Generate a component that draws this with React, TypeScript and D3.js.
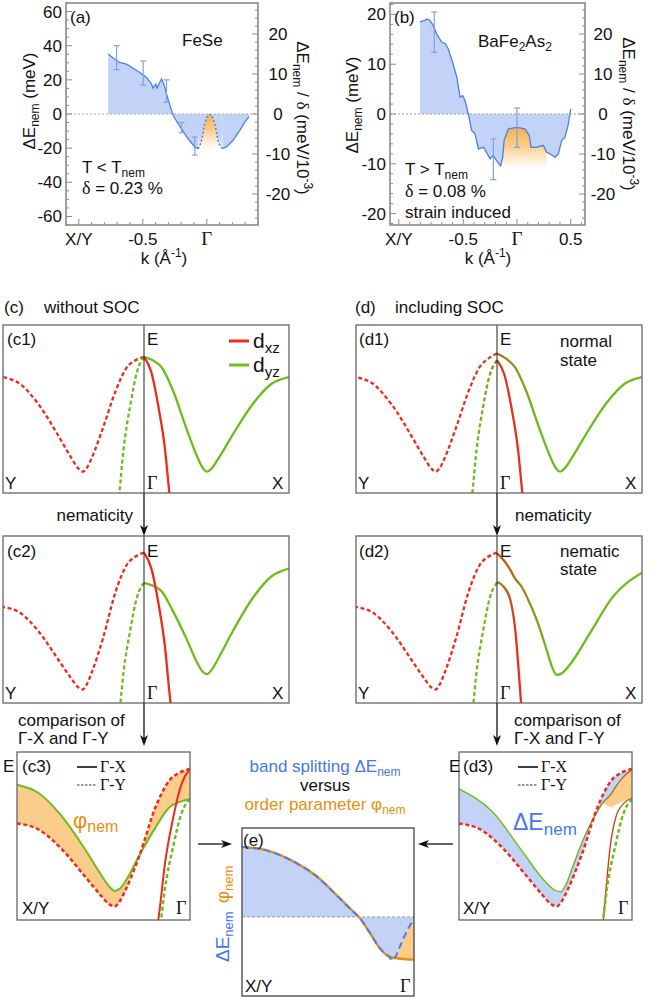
import React from 'react'
import * as d3 from 'd3'

const SANS = '"Liberation Sans", Arial, Helvetica, sans-serif'
const SERIF = '"Liberation Serif", "Times New Roman", serif'

const RED = '#ee2a1c'
const GREEN = '#6bbd1c'
const BLUE = '#4f7de8'
const BLUE_TXT = '#4676ee'
const BLUE_FILL = '#c3d3f8'
const ORANGE = '#e98f10'
const ORANGE_FILL = '#fccd8a'
const FRAME = '#666'
const AXIS = '#8a8a8a'
const ERR = '#7fa0e8'

// ---------- (a) FeSe, T < Tnem ----------
const feseK = [-0.771, -0.719, -0.68, -0.627, -0.523, -0.471, -0.432, -0.42, -0.398, -0.39, -0.354, -0.336, -0.315, -0.284, -0.263, -0.224, -0.19, -0.146, -0.094, -0.068]
const feseDE = [35.1, 32.1, 30.2, 29.2, 24.3, 21.4, 17.6, 15.2, 17.6, 15.2, 20.5, 17.6, 11.8, 4.0, -0.9, -5.7, -9.6, -14.5, -19.3, -20.3]
const feseBumpK = [-0.068, -0.041, -0.016, 0.023, 0.0625, 0.088, 0.123]
const feseBumpDE = [-20.3, -15.4, -5.7, -0.3, -5.7, -15.4, -20.3]
const feseTailK = [0.123, 0.154, 0.205, 0.258, 0.297, 0.33]
const feseTailDE = [-20.3, -19.3, -15.4, -9.6, -4.8, -1.5]
const feseErrK = [-0.705, -0.497, -0.315, -0.198, -0.094]
const feseErrHi = [40, 31, 20, -5, -13.5]
const feseErrLo = [26, 17, 7, -11, -24]
const feseYTicks = [60, 40, 20, 0, -20, -40, -60]
const feseKTicks = [-1.0, -0.5, 0]
const feseKLabels = ['X/Y', '-0.5', 'Γ']
const rightTicks = [20, 10, 0, -10, -20]

// ---------- (b) BaFe2As2, strain induced ----------
const bfaK = [-0.903, -0.857, -0.84, -0.81, -0.78, -0.748, -0.70, -0.67, -0.64, -0.60, -0.56, -0.53, -0.505, -0.484, -0.453, -0.422, -0.39, -0.36, -0.31, -0.25, -0.22, -0.19, -0.152, -0.133, -0.12, -0.08, 0.0, 0.074, 0.115, 0.13, 0.18, 0.245, 0.276, 0.307, 0.354, 0.385, 0.416, 0.447, 0.478, 0.50]
const bfaDE = [18.5, 18.8, 19.1, 18.8, 17.8, 16.1, 14.4, 14.2, 13.1, 10.4, 7.4, 3.4, 3.7, 2.7, 0, -3.3, -4.0, -7.0, -6.7, -9.0, -8.3, -9.4, -10.4, -8.7, -5.3, -3.0, -2.7, -3.0, -4.3, -6.7, -6.7, -6.3, -7.7, -8.0, -8.7, -8.0, -5.3, -4.7, -2.0, 1.0]
const bfaErrK = [-0.77, -0.22, 0.0]
const bfaErrHi = [20.5, -5, 1.2]
const bfaErrLo = [12.4, -13.2, -6.7]
const bfaYTicks = [20, 10, 0, -10, -20]
const bfaKTicks = [-1.1, -0.5, 0, 0.5]
const bfaKLabels = ['X/Y', '-0.5', 'Γ', '0.5']

// ---------- schematic bands: u = 0 at Γ, 1 at zone edge; E = fraction of frame height ----------
const bandU = [0, 0.06, 0.12, 0.2, 0.29, 0.37, 0.405, 0.435, 0.465, 0.52, 0.6, 0.75, 0.88, 1.0]
const outerE = [0.81, 0.79, 0.75, 0.61, 0.39, 0.21, 0.15, 0.127, 0.145, 0.215, 0.33, 0.53, 0.65, 0.69]
const innerU = [0, 0.05, 0.1, 0.145, 0.175, 0.21]
const innerE = [0.81, 0.72, 0.51, 0.26, 0.0, -0.25]
// nematic shift of dxz (up) / dyz (down)
const phiU = [0, 0.1, 0.2, 0.29, 0.43, 0.6, 0.8, 1.0]
const phiE = [0.09, 0.085, 0.06, 0.0, -0.045, -0.08, -0.105, -0.115]
// spin-orbit gap at Γ
const socU = [0, 0.05, 0.1, 0.2]
const socE = [0.02, 0.013, 0.004, 0]
// nematic + SOC, Γ-X
const nemUpperU = [0, 0.055, 0.09, 0.124, 0.17, 0.216, 0.274, 0.343, 0.38, 0.412, 0.45, 0.503, 0.64, 0.80, 1.0]
const nemUpperE = [0.896, 0.846, 0.80, 0.746, 0.696, 0.617, 0.497, 0.317, 0.215, 0.168, 0.18, 0.23, 0.417, 0.637, 0.78]
const nemLowerU = [0, 0.046, 0.092, 0.126, 0.149, 0.166, 0.19]
const nemLowerE = [0.726, 0.696, 0.617, 0.437, 0.198, 0.0, -0.3]

// ---------- (e) ----------
const ePhiU = [1.0, 0.856, 0.70, 0.566, 0.45, 0.372, 0.314, 0.256, 0.198, 0.149, 0.10, 0.0]
const ePhiV = [1.0, 0.95, 0.79, 0.58, 0.31, 0.12, -0.02, -0.23, -0.45, -0.56, -0.59, -0.61]
const eDeltaU = [1.0, 0.856, 0.70, 0.566, 0.45, 0.372, 0.314, 0.256, 0.198, 0.149, 0.124, 0.081, 0.043, 0.0]
const eDeltaV = [1.0, 0.95, 0.79, 0.58, 0.31, 0.12, -0.02, -0.23, -0.45, -0.56, -0.62, -0.42, -0.21, -0.03]

const phi = d3.scaleLinear().domain(phiU).range(phiE).clamp(true)
const soc = d3.scaleLinear().domain(socU).range(socE).clamp(true)
const outerUp = bandU.map((u, i) => outerE[i] + phi(u))
const outerDn = bandU.map((u, i) => outerE[i] - phi(u))
const innerUp = innerU.map((u, i) => innerE[i] + phi(u))
const innerDn = innerU.map((u, i) => innerE[i] - phi(u))
const outerSoc = bandU.map((u, i) => outerE[i] + soc(u))
const innerSoc = innerU.map((u, i) => innerE[i] - soc(u))

const smoothCurve = d3.curveMonotoneX
const smooth = d3.line().curve(smoothCurve)
const straight = d3.line()

const pts = (us, es, xs, ys) => us.map((u, i) => [xs(u), ys(es[i])])
const ribbon = (a, b) => smooth(a) + 'L' + smooth(b.slice().reverse()).slice(1) + 'Z'

// geometry of the schematic panels
const C1 = { x0: 3, x1: 289, gx: 144, y0: 325, y1: 493 }
const D1 = { x0: 356, x1: 642, gx: 497, y0: 325, y1: 493 }
const C2 = { x0: 3, x1: 289, gx: 144, y0: 536, y1: 703 }
const D2 = { x0: 356, x1: 642, gx: 497, y0: 536, y1: 703 }
const C3 = { x0: 17, x1: 190, y0: 752, y1: 920 }
const D3 = { x0: 459, x1: 632, y0: 752, y1: 920 }
const EP = { x0: 242, x1: 414, y0: 828, y1: 996 }

const Y0 = 3, Y1 = 225

function Sub({ children, size = 12, dy = 4 }) {
  return <tspan fontSize={size} dy={dy}>{children}</tspan>
}

function Spectrum({ x, y, yTicks, yMinor, kTicks, kLabels, rLabelX, children }) {
  const [x0, x1] = x.range()
  const yr = d3.scaleLinear().domain([-27.75, 27.75]).range([Y1, Y0])
  const steps = (s, step) => {
    const [lo, hi] = s.domain()
    return d3.range(Math.ceil(lo / step - 1e-9), Math.floor(hi / step + 1e-9) + 1).map(i => +(i * step).toFixed(4))
  }
  const major = (v, list) => list.some(m => Math.abs(m - v) < 1e-6)
  return (
    <g>
      {children}
      <g stroke={AXIS} strokeWidth={1}>
        {steps(y, yMinor).map(v => <line key={'l' + v} x1={x0} x2={x0 + (major(v, yTicks) ? 6 : 3)} y1={y(v)} y2={y(v)} />)}
        {steps(yr, 2).map(v => <line key={'r' + v} x1={x1} x2={x1 - (major(v, rightTicks) ? 6 : 3)} y1={yr(v)} y2={yr(v)} />)}
        {steps(x, 0.1).map(v => <line key={'b' + v} x1={x(v)} x2={x(v)} y1={Y1} y2={Y1 - (major(v, kTicks) ? 6 : 3)} />)}
      </g>
      <rect x={x0} y={Y0} width={x1 - x0} height={Y1 - Y0} fill="none" stroke={AXIS} strokeWidth={1.6} />
      <g fontSize={17} fill="#111">
        {yTicks.map(v => <text key={v} x={x0 - 4} y={y(v) + 6} textAnchor="end">{v}</text>)}
        {rightTicks.map(v => <text key={v} x={rLabelX} y={yr(v) + 6} textAnchor="middle">{v}</text>)}
        {kTicks.map((k, i) => (
          <text key={k} x={x(k)} y={245} textAnchor="middle" fontFamily={kLabels[i] === 'Γ' ? SERIF : SANS} fontSize={kLabels[i] === 'Γ' ? 19 : 17}>{kLabels[i]}</text>
        ))}
      </g>
    </g>
  )
}

function PanelA() {
  const x = d3.scaleLinear().domain([-1.10, 0.40]).range([66, 258])
  const y = d3.scaleLinear().domain([-65, 65]).range([Y1, Y0])
  const area = d3.area().x(d => x(d[0])).y0(y(0)).y1(d => y(d[1]))
  const areaSmooth = d3.area().curve(smoothCurve).x(d => x(d[0])).y0(y(0)).y1(d => y(d[1]))
  const seg1 = feseK.map((k, i) => [k, feseDE[i]])
  const bump = feseBumpK.map((k, i) => [k, feseBumpDE[i]])
  const tail = feseTailK.map((k, i) => [k, feseTailDE[i]])
  const toPx = d => [x(d[0]), y(d[1])]
  const bumpArea = d3.area().curve(smoothCurve).x(d => x(d[0])).y0(y(-20.3)).y1(d => y(d[1]))
  return (
    <Spectrum x={x} y={y} yTicks={feseYTicks} yMinor={5} kTicks={feseKTicks} kLabels={feseKLabels} rLabelX={278}>
      <defs>
        <linearGradient id="orA" x1="0" y1="0" x2="0" y2="1">
          <stop offset="0" stopColor="#f7b04e" />
          <stop offset="0.45" stopColor={ORANGE_FILL} />
          <stop offset="1" stopColor="#fff" />
        </linearGradient>
        <linearGradient id="blA" x1="0" y1="0" x2="0" y2="1">
          <stop offset="0" stopColor={BLUE_FILL} />
          <stop offset="0.6" stopColor={BLUE_FILL} />
          <stop offset="1" stopColor="#eef2fd" />
        </linearGradient>
      </defs>
      <path d={area(seg1)} fill={BLUE_FILL} />
      <path d={areaSmooth(bump)} fill="url(#blA)" />
      <path d={area(tail)} fill={BLUE_FILL} />
      <path d={bumpArea(bump)} fill="url(#orA)" />
      <line x1={66} x2={258} y1={y(0)} y2={y(0)} stroke="#aaa" strokeWidth={1} strokeDasharray="2 2" />
      <path d={straight(seg1.map(toPx))} fill="none" stroke={BLUE} strokeWidth={1.3} />
      <path d={smooth(bump.map(toPx))} fill="none" stroke={BLUE} strokeWidth={1.5} strokeDasharray="2 2" />
      <path d={straight(tail.map(toPx))} fill="none" stroke={BLUE} strokeWidth={1.3} />
      <g stroke={ERR} strokeWidth={1.2}>
        {feseErrK.map((k, i) => (
          <g key={k}>
            <line x1={x(k)} x2={x(k)} y1={y(feseErrHi[i])} y2={y(feseErrLo[i])} />
            <line x1={x(k) - 3} x2={x(k) + 3} y1={y(feseErrHi[i])} y2={y(feseErrHi[i])} />
            <line x1={x(k) - 3} x2={x(k) + 3} y1={y(feseErrLo[i])} y2={y(feseErrLo[i])} />
          </g>
        ))}
      </g>
      <g fontSize={17} fill="#111">
        <text x={70} y={23}>(a)</text>
        <text x={182} y={46}>FeSe</text>
        <text x={82} y={173}>T &lt; T<Sub>nem</Sub></text>
        <text x={82} y={194}><tspan fontFamily={SERIF} fontSize={18}>δ</tspan> = 0.23 %</text>
        <text transform="translate(35,101) rotate(-90)" textAnchor="middle">ΔE<Sub>nem</Sub><tspan dy={-4}> (meV)</tspan></text>
        <text transform="translate(297,118) rotate(90)" textAnchor="middle">ΔE<Sub>nem</Sub><tspan dy={-4}> / </tspan><tspan fontFamily={SERIF}>δ</tspan>  (meV/10<tspan fontSize={12} dy={-7}>-3</tspan><tspan dy={7}>)</tspan></text>
        <text x={164} y={264} textAnchor="middle">k  (Å<tspan fontSize={12} dy={-7}>-1</tspan><tspan dy={7}>)</tspan></text>
      </g>
    </Spectrum>
  )
}

function PanelB() {
  const x = d3.scaleLinear().domain([-1.182, 0.633]).range([390, 585])
  const y = d3.scaleLinear().domain([-22.3, 22.3]).range([Y1, Y0])
  const data = bfaK.map((k, i) => [k, bfaDE[i]])
  const area = d3.area().x(d => x(d[0])).y0(y(0)).y1(d => y(d[1]))
  const orange = data.filter(d => d[0] >= -0.133 && d[0] <= 0.276)
  const orArea = d3.area().x(d => x(d[0])).y0(y(-10.8)).y1(d => y(d[1]))
  return (
    <Spectrum x={x} y={y} yTicks={bfaYTicks} yMinor={2} kTicks={bfaKTicks} kLabels={bfaKLabels} rLabelX={603}>
      <defs>
        <linearGradient id="orB" x1="0" y1="0" x2="0" y2="1">
          <stop offset="0" stopColor="#f7b04e" />
          <stop offset="0.45" stopColor={ORANGE_FILL} />
          <stop offset="1" stopColor="#fff" />
        </linearGradient>
      </defs>
      <path d={area(data)} fill={BLUE_FILL} />
      <path d={orArea(orange)} fill="url(#orB)" />
      <line x1={390} x2={585} y1={y(0)} y2={y(0)} stroke="#999" strokeWidth={1} strokeDasharray="2 2" />
      <path d={straight(data.map(d => [x(d[0]), y(d[1])]))} fill="none" stroke={BLUE} strokeWidth={1.3} />
      <g stroke={ERR} strokeWidth={1.2}>
        {bfaErrK.map((k, i) => (
          <g key={k}>
            <line x1={x(k)} x2={x(k)} y1={y(bfaErrHi[i])} y2={y(bfaErrLo[i])} />
            <line x1={x(k) - 3} x2={x(k) + 3} y1={y(bfaErrHi[i])} y2={y(bfaErrHi[i])} />
            <line x1={x(k) - 3} x2={x(k) + 3} y1={y(bfaErrLo[i])} y2={y(bfaErrLo[i])} />
          </g>
        ))}
      </g>
      <g fontSize={17} fill="#111">
        <text x={394} y={23}>(b)</text>
        <text x={478} y={47}>BaFe<Sub>2</Sub><tspan dy={-4}>As</tspan><Sub>2</Sub></text>
        <text x={405} y={175}>T &gt; T<Sub>nem</Sub></text>
        <text x={405} y={197}><tspan fontFamily={SERIF} fontSize={18}>δ</tspan> = 0.08 %</text>
        <text x={405} y={218}>strain induced</text>
        <text transform="translate(358,105) rotate(-90)" textAnchor="middle">ΔE<Sub>nem</Sub><tspan dy={-4}> (meV)</tspan></text>
        <text transform="translate(623,114) rotate(90)" textAnchor="middle">ΔE<Sub>nem</Sub><tspan dy={-4}> / </tspan><tspan fontFamily={SERIF}>δ</tspan>  (meV/10<tspan fontSize={12} dy={-7}>-3</tspan><tspan dy={7}>)</tspan></text>
        <text x={488} y={264} textAnchor="middle">k  (Å<tspan fontSize={12} dy={-7}>-1</tspan><tspan dy={7}>)</tspan></text>
      </g>
    </Spectrum>
  )
}

function Grad({ id, x1, x2, from, to }) {
  return (
    <linearGradient id={id} gradientUnits="userSpaceOnUse" x1={x1} x2={x2} y1={0} y2={0}>
      <stop offset="0" stopColor={from} />
      <stop offset="1" stopColor={to} />
    </linearGradient>
  )
}

function SidePanel({ id, g, curves }) {
  const ys = d3.scaleLinear().domain([0, 1]).range([g.y1, g.y0])
  const xr = d3.scaleLinear().domain([0, 1]).range([g.gx, g.x1])
  const xl = d3.scaleLinear().domain([0, 1]).range([g.gx, g.x0])
  return (
    <g>
      <clipPath id={id}><rect x={g.x0} y={g.y0} width={g.x1 - g.x0} height={g.y1 - g.y0} /></clipPath>
      <g clipPath={`url(#${id})`}>
        {curves.map((c, i) => (
          <path key={i} d={smooth(pts(c.u, c.e, c.side === 'L' ? xl : xr, ys))} fill="none"
            stroke={c.stroke} strokeWidth={c.w || 2.3} strokeDasharray={c.dash ? '4 2.6' : undefined} />
        ))}
      </g>
      <line x1={g.gx} x2={g.gx} y1={g.y0} y2={g.y1} stroke="#222" strokeWidth={1} />
      <rect x={g.x0} y={g.y0} width={g.x1 - g.x0} height={g.y1 - g.y0} fill="none" stroke={FRAME} strokeWidth={1.3} />
    </g>
  )
}

function ComparePanel({ id, g, fills, curves }) {
  const ys = d3.scaleLinear().domain([0, 1]).range([g.y1, g.y0])
  const xs = d3.scaleLinear().domain([0, 1]).range([g.x1, g.x0])
  return (
    <g>
      <clipPath id={id}><rect x={g.x0} y={g.y0} width={g.x1 - g.x0} height={g.y1 - g.y0} /></clipPath>
      <g clipPath={`url(#${id})`}>
        {fills.map((f, i) => {
          const a = pts(f.au, f.ae, xs, ys).filter((_, j) => f.au[j] <= f.max)
          const b = pts(f.bu, f.be, xs, ys).filter((_, j) => f.bu[j] <= f.max)
          return <path key={i} d={ribbon(a, b)} fill={f.fill} />
        })}
        {curves.map((c, i) => (
          <path key={i} d={smooth(pts(c.u, c.e, xs, ys))} fill="none"
            stroke={c.stroke} strokeWidth={c.w || 2} strokeDasharray={c.dash ? '4 2.6' : undefined} />
        ))}
      </g>
      <rect x={g.x0} y={g.y0} width={g.x1 - g.x0} height={g.y1 - g.y0} fill="none" stroke={FRAME} strokeWidth={1.3} />
    </g>
  )
}

function PanelE() {
  const xs = d3.scaleLinear().domain([0, 1]).range([EP.x1, EP.x0])
  const ys = d3.scaleLinear().domain([-1.13, 1.27]).range([EP.y1, EP.y0])
  const delta = pts(eDeltaU, eDeltaV, xs, ys)
  const phiLine = pts(ePhiU, ePhiV, xs, ys)
  const blueArea = d3.area().curve(smoothCurve).x(d => d[0]).y0(ys(0)).y1(d => d[1])
  const orA = phiLine.filter((_, i) => ePhiU[i] <= 0.15)
  const orB = delta.filter((_, i) => eDeltaU[i] <= 0.15)
  return (
    <g>
      <clipPath id="clipE"><rect x={EP.x0} y={EP.y0} width={EP.x1 - EP.x0} height={EP.y1 - EP.y0} /></clipPath>
      <g clipPath="url(#clipE)">
        <path d={blueArea(delta)} fill={BLUE_FILL} />
        <path d={ribbon(orA, orB)} fill={ORANGE_FILL} />
        <line x1={EP.x0} x2={EP.x1} y1={ys(0)} y2={ys(0)} stroke="#888" strokeWidth={0.8} strokeDasharray="3 2" />
        <path d={smooth(phiLine)} fill="none" stroke={ORANGE} strokeWidth={2.4} />
        <path d={smooth(delta)} fill="none" stroke={BLUE} strokeWidth={2} strokeDasharray="7 4" />
      </g>
      <rect x={EP.x0} y={EP.y0} width={EP.x1 - EP.x0} height={EP.y1 - EP.y0} fill="none" stroke="#444" strokeWidth={1.3} />
    </g>
  )
}

function ArrowDown({ x, y1, y2 }) {
  return (
    <g>
      <line x1={x} x2={x} y1={y1} y2={y2 - 6} stroke="#111" strokeWidth={1.3} />
      <path d={`M${x},${y2} L${x - 4},${y2 - 11} L${x},${y2 - 8} L${x + 4},${y2 - 11} Z`} fill="#111" />
    </g>
  )
}

function ArrowH({ xFrom, xTo, y }) {
  const s = Math.sign(xTo - xFrom)
  return (
    <g>
      <line x1={xFrom} x2={xTo - s * 6} y1={y} y2={y} stroke="#111" strokeWidth={1.3} />
      <path d={`M${xTo},${y} L${xTo - s * 11},${y - 4} L${xTo - s * 8},${y} L${xTo - s * 11},${y + 4} Z`} fill="#111" />
    </g>
  )
}

export default function App() {
  const dBand = (u, e, side, stroke, dash) => ({ u, e, side, stroke, dash })
  return (
    <svg width={662} height={1000} viewBox="0 0 662 1000" style={{ position: 'absolute', left: 0, top: 0, background: '#fff' }} fontFamily={SANS}>
      <defs>
        <Grad id="d1OutR" x1={497} x2={540} from="#a5721c" to={GREEN} />
        <Grad id="d1InR" x1={497} x2={519} from="#c24a18" to={RED} />
        <Grad id="d1OutL" x1={497} x2={455} from="#b0581c" to={RED} />
        <Grad id="d1InL" x1={497} x2={476} from="#8f8a1c" to={GREEN} />
        <Grad id="d2UpR" x1={497} x2={548} from="#cc4a1a" to={GREEN} />
        <Grad id="d2LoR" x1={497} x2={519} from="#8e8a1e" to={RED} />
        <Grad id="d3Up" x1={632} x2={566} from="#b8561a" to={GREEN} />
        <Grad id="d3Lo" x1={632} x2={606} from="#9a7a1c" to={RED} />
      </defs>

      <PanelA />
      <PanelB />

      <g fontSize={17} fill="#111">
        <text x={4} y={313}>(c)</text>
        <text x={44} y={313}>without SOC</text>
        <text x={355} y={313}>(d)</text>
        <text x={395} y={313}>including SOC</text>
      </g>

      <SidePanel id="c1" g={C1} curves={[
        dBand(bandU, outerE, 'L', RED, true),
        dBand(innerU, innerE, 'L', GREEN, true),
        dBand(bandU, outerE, 'R', GREEN, false),
        dBand(innerU, innerE, 'R', RED, false),
      ]} />
      <SidePanel id="c2" g={C2} curves={[
        dBand(bandU, outerUp, 'L', RED, true),
        dBand(innerU, innerDn, 'L', GREEN, true),
        dBand(bandU, outerDn, 'R', GREEN, false),
        dBand(innerU, innerUp, 'R', RED, false),
      ]} />
      <SidePanel id="d1" g={D1} curves={[
        dBand(bandU, outerSoc, 'L', 'url(#d1OutL)', true),
        dBand(innerU, innerSoc, 'L', 'url(#d1InL)', true),
        dBand(bandU, outerSoc, 'R', 'url(#d1OutR)', false),
        dBand(innerU, innerSoc, 'R', 'url(#d1InR)', false),
      ]} />
      <SidePanel id="d2" g={D2} curves={[
        dBand(bandU, outerUp, 'L', RED, true),
        dBand(innerU, innerDn, 'L', GREEN, true),
        dBand(nemUpperU, nemUpperE, 'R', 'url(#d2UpR)', false),
        dBand(nemLowerU, nemLowerE, 'R', 'url(#d2LoR)', false),
      ]} />

      {/* legend c1 */}
      <line x1={229} x2={249} y1={341} y2={341} stroke={RED} strokeWidth={3} />
      <line x1={229} x2={249} y1={365} y2={365} stroke={GREEN} strokeWidth={3} />
      <g fontSize={21} fill="#111">
        <text x={253} y={348}>d<Sub size={15} dy={5}>xz</Sub></text>
        <text x={253} y={372}>d<Sub size={15} dy={5}>yz</Sub></text>
      </g>

      <g fontSize={17} fill="#111">
        <text x={7} y={345}>(c1)</text>
        <text x={147} y={345}>E</text>
        <text x={5} y={489}>Y</text>
        <text x={147} y={489} fontFamily={SERIF} fontSize={18}>Γ</text>
        <text x={272} y={489}>X</text>

        <text x={359} y={345}>(d1)</text>
        <text x={500} y={345}>E</text>
        <text x={560} y={347}>normal</text>
        <text x={560} y={366}>state</text>
        <text x={358} y={489}>Y</text>
        <text x={500} y={489} fontFamily={SERIF} fontSize={18}>Γ</text>
        <text x={625} y={489}>X</text>

        <text x={7} y={557}>(c2)</text>
        <text x={147} y={557}>E</text>
        <text x={5} y={699}>Y</text>
        <text x={147} y={699} fontFamily={SERIF} fontSize={18}>Γ</text>
        <text x={272} y={699}>X</text>

        <text x={359} y={557}>(d2)</text>
        <text x={500} y={557}>E</text>
        <text x={560} y={557}>nematic</text>
        <text x={560} y={575}>state</text>
        <text x={358} y={699}>Y</text>
        <text x={500} y={699} fontFamily={SERIF} fontSize={18}>Γ</text>
        <text x={625} y={699}>X</text>

        <text x={133} y={521} textAnchor="end">nematicity</text>
        <text x={515} y={521}>nematicity</text>
        <text x={18} y={726}>comparison of</text>
        <text x={18} y={744}>Γ-X and Γ-Y</text>
        <text x={514} y={726}>comparison of</text>
        <text x={514} y={744}>Γ-X and Γ-Y</text>
      </g>

      <ArrowDown x={C1.gx} y1={C1.y1} y2={C2.y0} />
      <ArrowDown x={D1.gx} y1={D1.y1} y2={D2.y0} />
      <ArrowDown x={C2.gx} y1={C2.y1} y2={746} />
      <ArrowDown x={D2.gx} y1={D2.y1} y2={746} />

      <ComparePanel id="c3" g={C3}
        fills={[{ au: bandU, ae: outerDn, bu: bandU, be: outerUp, max: 1, fill: ORANGE_FILL }]}
        curves={[
          { u: bandU, e: outerDn, stroke: GREEN, w: 2 },
          { u: bandU, e: outerUp, stroke: RED, dash: true, w: 2.5 },
          { u: innerU, e: innerUp, stroke: RED, w: 2 },
          { u: innerU, e: innerDn, stroke: GREEN, dash: true, w: 2.5 },
        ]} />
      <ComparePanel id="d3" g={D3}
        fills={[
          { au: nemUpperU, ae: nemUpperE, bu: bandU, be: outerUp, max: 1, fill: BLUE_FILL },
          { au: nemUpperU, ae: nemUpperE, bu: bandU, be: outerDn, max: 0.17, fill: ORANGE_FILL },
        ]}
        curves={[
          { u: nemUpperU, e: nemUpperE, stroke: 'url(#d3Up)', w: 1.4 },
          { u: bandU, e: outerUp, stroke: RED, dash: true, w: 2.5 },
          { u: nemLowerU, e: nemLowerE, stroke: 'url(#d3Lo)', w: 1.4 },
          { u: innerU, e: innerDn, stroke: GREEN, dash: true, w: 2.5 },
        ]} />

      {/* legends c3 / d3 */}
      <line x1={77} x2={97} y1={767} y2={767} stroke="#111" strokeWidth={1.6} />
      <line x1={77} x2={97} y1={785} y2={785} stroke="#333" strokeWidth={1.2} strokeDasharray="2.5 1.5" />
      <line x1={518} x2={538} y1={767} y2={767} stroke="#111" strokeWidth={1.6} />
      <line x1={518} x2={538} y1={785} y2={785} stroke="#333" strokeWidth={1.2} strokeDasharray="2.5 1.5" />
      <g fontSize={16} fill="#111" fontFamily={SERIF}>
        <text x={100} y={772}>Γ-X</text>
        <text x={100} y={790}>Γ-Y</text>
        <text x={541} y={772}>Γ-X</text>
        <text x={541} y={790}>Γ-Y</text>
      </g>
      <g fontSize={17} fill="#111">
        <text x={3} y={772}>E</text>
        <text x={22} y={772}>(c3)</text>
        <text x={22} y={914}>X/Y</text>
        <text x={176} y={914} fontFamily={SERIF} fontSize={18}>Γ</text>
        <text x={449} y={772}>E</text>
        <text x={463} y={772}>(d3)</text>
        <text x={463} y={914}>X/Y</text>
        <text x={618} y={914} fontFamily={SERIF} fontSize={18}>Γ</text>
      </g>
      <text x={73} y={828} fontSize={22} fill={ORANGE}>φ<Sub size={16} dy={4}>nem</Sub></text>
      <text x={513} y={830} fontSize={23} fill={BLUE_TXT}>ΔE<Sub size={17} dy={5}>nem</Sub></text>

      {/* (e) */}
      <PanelE />
      <ArrowH xFrom={198} xTo={232} y={844} />
      <ArrowH xFrom={453} xTo={418} y={844} />
      <g fontSize={17} textAnchor="middle">
        <text x={325} y={772} fill={BLUE_TXT}>band splitting ΔE<Sub>nem</Sub></text>
        <text x={325} y={791} fill="#111">versus</text>
        <text x={325} y={810} fill={ORANGE}>order parameter φ<Sub>nem</Sub></text>
      </g>
      <g fontSize={17} fill="#111">
        <text x={243} y={846}>(e)</text>
        <text x={245} y={992}>X/Y</text>
        <text x={400} y={992} fontFamily={SERIF} fontSize={18}>Γ</text>
      </g>
      <text transform="translate(229,962) rotate(-90)" fontSize={19}>
        <tspan fill={BLUE_TXT}>ΔE</tspan><tspan fill={BLUE_TXT} fontSize={13} dy={4}>nem</tspan>
        <tspan fill={ORANGE} dy={-4} dx={8}>φ</tspan><tspan fill={ORANGE} fontSize={13} dy={4}>nem</tspan>
      </text>
    </svg>
  )
}
